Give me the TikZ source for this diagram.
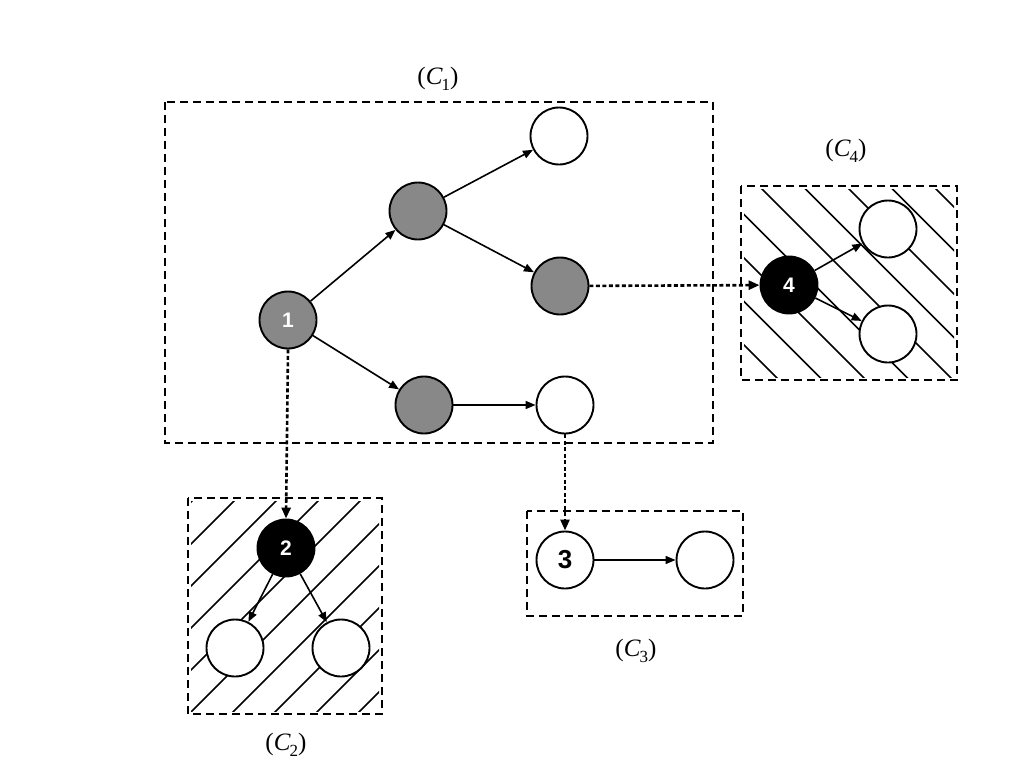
\documentclass[tikz,border=0pt]{standalone}
\usepackage{fontspec}
\setmainfont{Liberation Serif}
\newfontfamily\numfont{Liberation Sans}
\usetikzlibrary{arrows.meta}
\definecolor{nodegray}{RGB}{136,136,136}
\newcommand{\clab}[1]{(\textit{C}\kern-1pt\raisebox{-0.25em}{\fontsize{17}{17}\selectfont #1})}
\begin{document}
\begin{tikzpicture}[x=1pt,y=-1pt,
  nd/.style={circle, draw=black, line width=1.9pt, minimum size=57pt, inner sep=0pt, fill=white,
    font=\numfont\bfseries\fontsize{21}{21}\selectfont},
  grnd/.style={nd, fill=nodegray, text=white},
  blnd/.style={nd, fill=black, text=white},
  cbox/.style={draw, line width=1.5pt, dash pattern=on 8pt off 5pt},
  arr/.style={-{Triangle[length=10pt,width=8pt]}, line width=1.6pt},
  darr/.style={-{Triangle[length=11pt,width=9pt]}, line width=2.6pt, dash pattern=on 4pt off 2.5pt},
  hatch/.style={line width=1.6pt},
  lbl/.style={font=\fontsize{25}{25}\selectfont}]
\useasboundingbox (0,0) rectangle (1024,768);

% boxes
\draw[cbox] (165,102) rectangle (713,443);
\draw[cbox] (188,498) rectangle (382,714);
\draw[cbox] (527,511) rectangle (743,616);
\draw[cbox] (741,186) rectangle (957,380);

% hatching C2
\begin{scope}
  \clip (191,501) rectangle (379,711);
  \foreach \k in {-3,...,8} {
    \pgfmathsetmacro{\c}{735+42*\k}
    \draw[hatch] (100,\c-100) -- (500,\c-500);
  }
\end{scope}
% hatching C4
\begin{scope}
  \clip (744,189) rectangle (954,377);
  \foreach \k in {-6,...,6} {
    \pgfmathsetmacro{\c}{-573+43.5*\k}
    \draw[hatch] (600,600+\c) -- (1100,1100+\c);
  }
\end{scope}

% labels
\node[lbl] (l1) at (438,79) {\clab{1}};
\node[lbl] (l2) at (286,745) {\clab{2}};
\node[lbl] (l3) at (636,651) {\clab{3}};
\node[lbl] (l4) at (846,151) {\clab{4}};

% nodes C1
\node[grnd] (n1) at (288,320) {1};
\node[grnd] (a) at (418,211) {};
\node[nd] (t) at (559,136) {};
\node[grnd] (b) at (560,286) {};
\node[grnd] (c) at (424,405) {};
\node[nd] (d) at (565,405) {};
% C2
\node[blnd] (n2) at (286,548) {2};
\node[nd] (e) at (235,648) {};
\node[nd] (f) at (341,648) {};
% C3
\node[nd, font=\numfont\bfseries\fontsize{26}{26}\selectfont] (n3) at (565,560) {3};
\node[nd] (g) at (705,560) {};
% C4
\node[blnd] (n4) at (789,285) {4};
\node[nd] (h) at (888,229) {};
\node[nd] (i) at (888,334) {};

% arrows
\draw[arr] (n1) -- (a);
\draw[arr] (a) -- (t);
\draw[arr] (a) -- (b);
\draw[arr] (n1) -- (c);
\draw[arr] (c) -- (d);
\draw[arr] (n2) -- (e);
\draw[arr] (n2) -- (f);
\draw[arr] (n3) -- (g);
\draw[arr] (n4) -- (h);
\draw[arr] (n4) -- (i);

\draw[darr] (n1.south) -- (n2.north);
\draw[darr] (b) -- (n4);
\draw[darr] (d.south) -- (n3.north);
\end{tikzpicture}
\end{document}
